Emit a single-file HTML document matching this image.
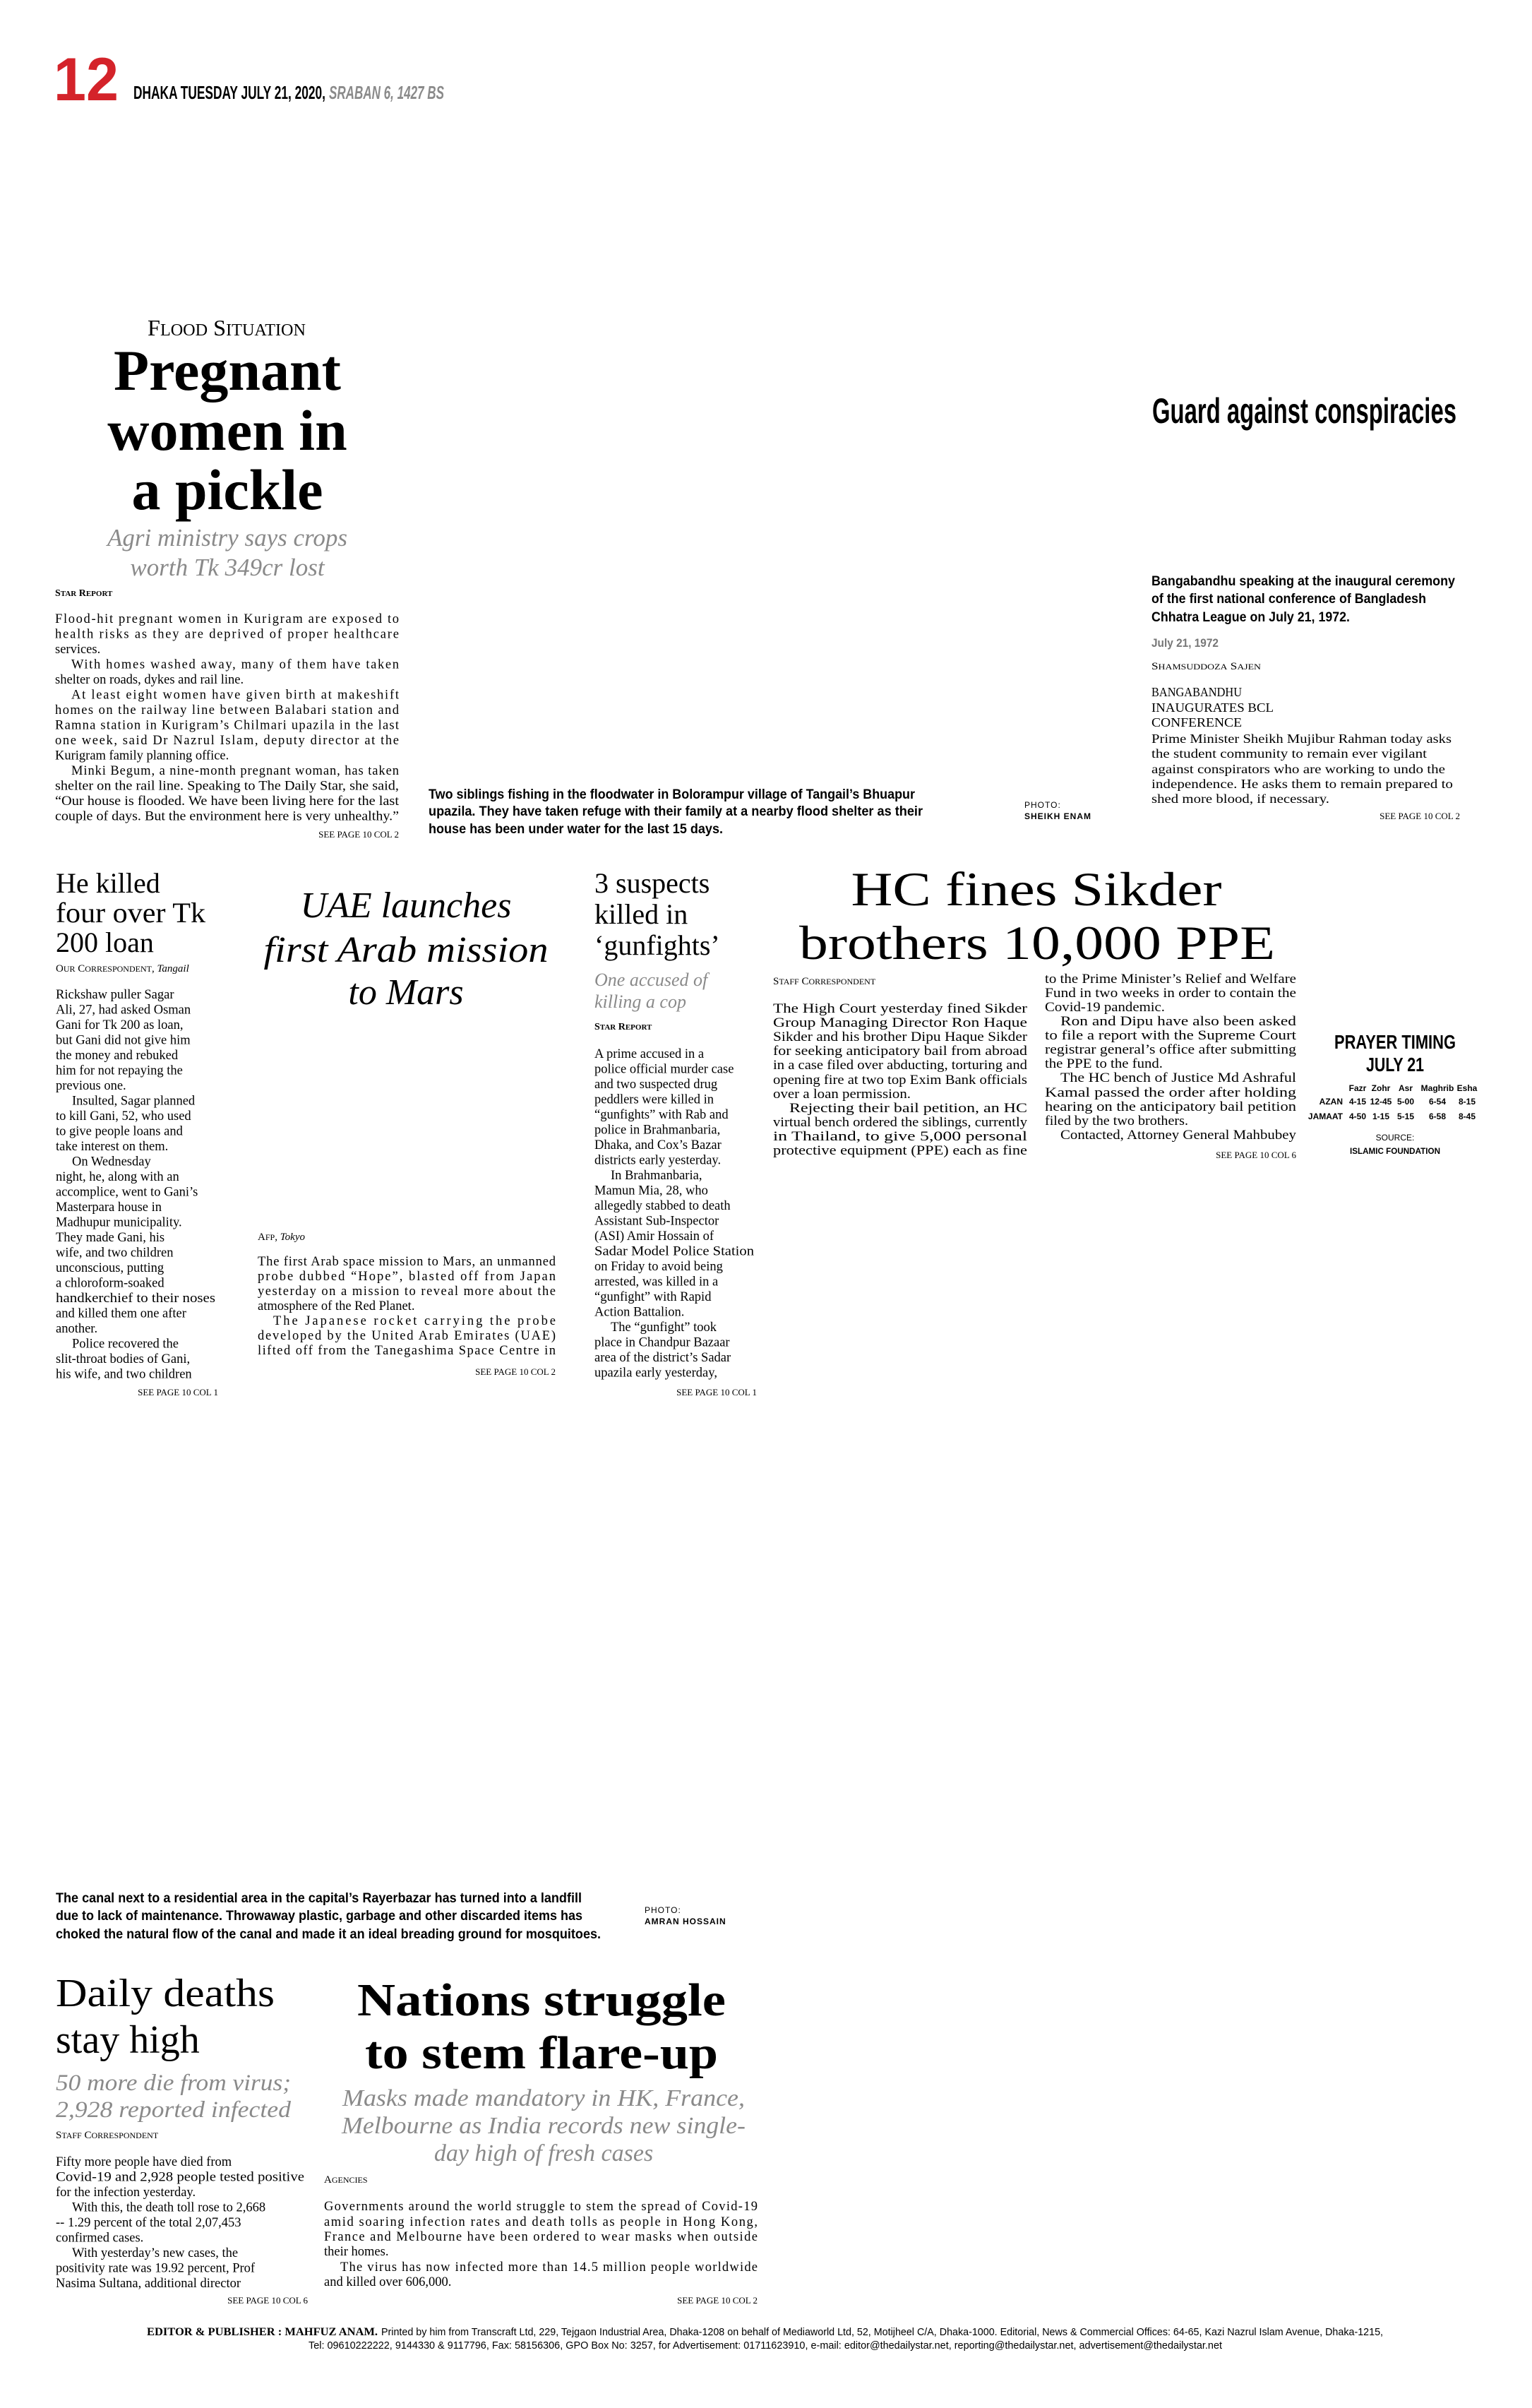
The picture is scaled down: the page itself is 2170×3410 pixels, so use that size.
<!DOCTYPE html>
<html><head><meta charset="utf-8"><style>
html,body{margin:0;padding:0;background:#fff}
svg{display:block}
.s{font-family:"Liberation Serif",serif}
.sb{font-family:"Liberation Serif",serif;font-weight:bold}
.si{font-family:"Liberation Serif",serif;font-style:italic}
.n{font-family:"Liberation Sans",sans-serif;font-weight:bold}
.b{font-family:"Liberation Serif",serif;font-size:18.5px}
.gi{font-family:"Liberation Serif",serif;font-style:italic;fill:#8a8a8a}
.sc{font-family:"Liberation Serif",serif;font-weight:bold;font-size:14px}
.see{font-family:"Liberation Serif",serif;font-size:13px;text-anchor:end}
</style></head><body>
<svg width="2170" height="3410" viewBox="0 0 2170 3410" xmlns="http://www.w3.org/2000/svg">
<rect width="2170" height="3410" fill="#fff"/>
<!-- header -->
<text x="76" y="142" class="n" font-size="86" fill="#d4232a" textLength="92" lengthAdjust="spacingAndGlyphs">12</text>
<text x="189" y="140" class="n" font-size="26" textLength="272" lengthAdjust="spacingAndGlyphs">DHAKA TUESDAY JULY 21, 2020,</text>
<text x="466" y="140" class="n" font-size="26" font-style="italic" fill="#8a8a8a" textLength="163" lengthAdjust="spacingAndGlyphs">SRABAN 6, 1427 BS</text>

<!-- Pregnant women -->
<text x="209" y="475" class="s" font-size="32" textLength="224" lengthAdjust="spacingAndGlyphs">F<tspan font-size="24">LOOD</tspan> S<tspan font-size="24">ITUATION</tspan></text>
<g class="sb" font-size="82" text-anchor="middle">
<text x="322" y="552">Pregnant</text>
<text x="322" y="637">women in</text>
<text x="322" y="721">a pickle</text>
</g>
<g class="gi" font-size="35" text-anchor="middle">
<text x="322" y="773">Agri ministry says crops</text>
<text x="322" y="815">worth Tk 349cr lost</text>
</g>
<text x="78" y="844" class="sc">S<tspan font-size="11">TAR</tspan> R<tspan font-size="11">EPORT</tspan></text>
<g class="b">
<text x="78" y="882" textLength="487" lengthAdjust="spacing">Flood-hit pregnant women in Kurigram are exposed to</text>
<text x="78" y="903.5" textLength="487" lengthAdjust="spacing">health risks as they are deprived of proper healthcare</text>
<text x="78" y="925">services.</text>
<text x="101" y="946.5" textLength="464" lengthAdjust="spacing">With homes washed away, many of them have taken</text>
<text x="78" y="968">shelter on roads, dykes and rail line.</text>
<text x="101" y="989.5" textLength="464" lengthAdjust="spacing">At least eight women have given birth at makeshift</text>
<text x="78" y="1011" textLength="487" lengthAdjust="spacing">homes on the railway line between Balabari station and</text>
<text x="78" y="1032.5" textLength="487" lengthAdjust="spacing">Ramna station in Kurigram’s Chilmari upazila in the last</text>
<text x="78" y="1054" textLength="487" lengthAdjust="spacing">one week, said Dr Nazrul Islam, deputy director at the</text>
<text x="78" y="1075.5">Kurigram family planning office.</text>
<text x="101" y="1097" textLength="464" lengthAdjust="spacing">Minki Begum, a nine-month pregnant woman, has taken</text>
<text x="78" y="1118.5" textLength="487" lengthAdjust="spacingAndGlyphs">shelter on the rail line. Speaking to The Daily Star, she said,</text>
<text x="78" y="1140" textLength="487" lengthAdjust="spacingAndGlyphs">“Our house is flooded. We have been living here for the last</text>
<text x="78" y="1161.5" textLength="487" lengthAdjust="spacingAndGlyphs">couple of days. But the environment here is very unhealthy.”</text>
</g>
<text x="565" y="1186" class="see">SEE PAGE 10 COL 2</text>

<!-- flood caption -->
<g class="n" font-size="19">
<text x="607" y="1131" textLength="689" lengthAdjust="spacingAndGlyphs">Two siblings fishing in the floodwater in Bolorampur village of Tangail’s Bhuapur</text>
<text x="607" y="1155" textLength="700" lengthAdjust="spacingAndGlyphs">upazila. They have taken refuge with their family at a nearby flood shelter as their</text>
<text x="607" y="1180" textLength="417" lengthAdjust="spacingAndGlyphs">house has been under water for the last 15 days.</text>
</g>
<text x="1451" y="1144" font-family="Liberation Sans,sans-serif" font-size="12" letter-spacing="1">PHOTO:</text>
<text x="1451" y="1160" class="n" font-size="12" letter-spacing="1">SHEIKH ENAM</text>

<!-- Guard against conspiracies -->
<text x="1632" y="599" class="n" font-size="50" textLength="431" lengthAdjust="spacingAndGlyphs">Guard against conspiracies</text>
<g class="n" font-size="19">
<text x="1631" y="829" textLength="430" lengthAdjust="spacingAndGlyphs">Bangabandhu speaking at the inaugural ceremony</text>
<text x="1631" y="854" textLength="389" lengthAdjust="spacingAndGlyphs">of the first national conference of Bangladesh</text>
<text x="1631" y="880" textLength="281" lengthAdjust="spacingAndGlyphs">Chhatra League on July 21, 1972.</text>
</g>
<text x="1631" y="916" class="n" font-size="17" fill="#777" textLength="95" lengthAdjust="spacingAndGlyphs">July 21, 1972</text>
<text x="1631" y="948" class="s" font-size="15" textLength="155" lengthAdjust="spacingAndGlyphs">S<tspan font-size="12">HAMSUDDOZA</tspan> S<tspan font-size="12">AJEN</tspan></text>
<g class="s" font-size="18">
<text x="1631" y="986" textLength="128" lengthAdjust="spacingAndGlyphs">BANGABANDHU</text>
<text x="1631" y="1008" textLength="173" lengthAdjust="spacingAndGlyphs">INAUGURATES BCL</text>
<text x="1631" y="1029" textLength="128" lengthAdjust="spacingAndGlyphs">CONFERENCE</text>
<text x="1631" y="1052" textLength="425" lengthAdjust="spacingAndGlyphs">Prime Minister Sheikh Mujibur Rahman today asks</text>
<text x="1631" y="1073" textLength="390" lengthAdjust="spacingAndGlyphs">the student community to remain ever vigilant</text>
<text x="1631" y="1095" textLength="416" lengthAdjust="spacingAndGlyphs">against conspirators who are working to undo the</text>
<text x="1631" y="1116" textLength="427" lengthAdjust="spacingAndGlyphs">independence. He asks them to remain prepared to</text>
<text x="1631" y="1137" textLength="252" lengthAdjust="spacingAndGlyphs">shed more blood, if necessary.</text>
</g>
<text x="2068" y="1160" class="see">SEE PAGE 10 COL 2</text>

<!-- He killed -->
<g class="s" font-size="40">
<text x="79" y="1264">He killed</text>
<text x="79" y="1306" textLength="212" lengthAdjust="spacingAndGlyphs">four over Tk</text>
<text x="79" y="1348">200 loan</text>
</g>
<text x="79" y="1376" class="s" font-size="15">O<tspan font-size="12">UR</tspan> C<tspan font-size="12">ORRESPONDENT</tspan>, <tspan font-style="italic">Tangail</tspan></text>
<g class="b">
<text x="79" y="1414">Rickshaw puller Sagar</text>
<text x="79" y="1435.5">Ali, 27, had asked Osman</text>
<text x="79" y="1457">Gani for Tk 200 as loan,</text>
<text x="79" y="1478.5">but Gani did not give him</text>
<text x="79" y="1500">the money and rebuked</text>
<text x="79" y="1521.5">him for not repaying the</text>
<text x="79" y="1543">previous one.</text>
<text x="102" y="1564.5">Insulted, Sagar planned</text>
<text x="79" y="1586">to kill Gani, 52, who used</text>
<text x="79" y="1607.5">to give people loans and</text>
<text x="79" y="1629">take interest on them.</text>
<text x="102" y="1650.5">On Wednesday</text>
<text x="79" y="1672">night, he, along with an</text>
<text x="79" y="1693.5">accomplice, went to Gani’s</text>
<text x="79" y="1715">Masterpara house in</text>
<text x="79" y="1736.5">Madhupur municipality.</text>
<text x="79" y="1758">They made Gani, his</text>
<text x="79" y="1779.5">wife, and two children</text>
<text x="79" y="1801">unconscious, putting</text>
<text x="79" y="1822.5">a chloroform-soaked</text>
<text x="79" y="1844" textLength="226" lengthAdjust="spacingAndGlyphs">handkerchief to their noses</text>
<text x="79" y="1865.5">and killed them one after</text>
<text x="79" y="1887">another.</text>
<text x="102" y="1908.5">Police recovered the</text>
<text x="79" y="1930">slit-throat bodies of Gani,</text>
<text x="79" y="1951.5">his wife, and two children</text>
</g>
<text x="309" y="1976" class="see">SEE PAGE 10 COL 1</text>

<!-- UAE -->
<g class="si" font-size="52" text-anchor="middle">
<text x="575" y="1299">UAE launches</text>
<text x="575" y="1362" textLength="403" lengthAdjust="spacingAndGlyphs">first Arab mission</text>
<text x="575" y="1422">to Mars</text>
</g>
<text x="365" y="1756" class="s" font-size="15">A<tspan font-size="12">FP</tspan>, <tspan font-style="italic">Tokyo</tspan></text>
<g class="b">
<text x="365" y="1792" textLength="422" lengthAdjust="spacing">The first Arab space mission to Mars, an unmanned</text>
<text x="365" y="1813" textLength="422" lengthAdjust="spacing">probe dubbed “Hope”, blasted off from Japan</text>
<text x="365" y="1834" textLength="422" lengthAdjust="spacing">yesterday on a mission to reveal more about the</text>
<text x="365" y="1855">atmosphere of the Red Planet.</text>
<text x="387" y="1876" textLength="400" lengthAdjust="spacing">The Japanese rocket carrying the probe</text>
<text x="365" y="1897" textLength="422" lengthAdjust="spacing">developed by the United Arab Emirates (UAE)</text>
<text x="365" y="1918" textLength="422" lengthAdjust="spacing">lifted off from the Tanegashima Space Centre in</text>
</g>
<text x="787" y="1947" class="see">SEE PAGE 10 COL 2</text>

<!-- 3 suspects -->
<g class="s" font-size="40">
<text x="842" y="1264">3 suspects</text>
<text x="842" y="1308">killed in</text>
<text x="842" y="1352">‘gunfights’</text>
</g>
<g class="gi" font-size="26">
<text x="842" y="1396">One accused of</text>
<text x="842" y="1427">killing a cop</text>
</g>
<text x="842" y="1458" class="sc">S<tspan font-size="11">TAR</tspan> R<tspan font-size="11">EPORT</tspan></text>
<g class="b">
<text x="842" y="1498">A prime accused in a</text>
<text x="842" y="1519.5">police official murder case</text>
<text x="842" y="1541">and two suspected drug</text>
<text x="842" y="1562.5">peddlers were killed in</text>
<text x="842" y="1584">“gunfights” with Rab and</text>
<text x="842" y="1605.5">police in Brahmanbaria,</text>
<text x="842" y="1627">Dhaka, and Cox’s Bazar</text>
<text x="842" y="1648.5">districts early yesterday.</text>
<text x="865" y="1670">In Brahmanbaria,</text>
<text x="842" y="1691.5">Mamun Mia, 28, who</text>
<text x="842" y="1713">allegedly stabbed to death</text>
<text x="842" y="1734.5">Assistant Sub-Inspector</text>
<text x="842" y="1756">(ASI) Amir Hossain of</text>
<text x="842" y="1777.5" textLength="226" lengthAdjust="spacingAndGlyphs">Sadar Model Police Station</text>
<text x="842" y="1799">on Friday to avoid being</text>
<text x="842" y="1820.5">arrested, was killed in a</text>
<text x="842" y="1842">“gunfight” with Rapid</text>
<text x="842" y="1863.5">Action Battalion.</text>
<text x="865" y="1885">The “gunfight” took</text>
<text x="842" y="1906.5">place in Chandpur Bazaar</text>
<text x="842" y="1928">area of the district’s Sadar</text>
<text x="842" y="1949.5">upazila early yesterday,</text>
</g>
<text x="1072" y="1976" class="see">SEE PAGE 10 COL 1</text>

<!-- HC fines -->
<g class="s" font-size="68" text-anchor="middle">
<text x="1468" y="1282" textLength="525" lengthAdjust="spacingAndGlyphs">HC fines Sikder</text>
<text x="1469" y="1358" textLength="674" lengthAdjust="spacingAndGlyphs">brothers 10,000 PPE</text>
</g>
<text x="1095" y="1394" class="s" font-size="15">S<tspan font-size="12">TAFF</tspan> C<tspan font-size="12">ORRESPONDENT</tspan></text>
<g class="b" font-size="18.5">
<text x="1095" y="1434" textLength="360" lengthAdjust="spacingAndGlyphs">The High Court yesterday fined Sikder</text>
<text x="1095" y="1454" textLength="360" lengthAdjust="spacingAndGlyphs">Group Managing Director Ron Haque</text>
<text x="1095" y="1474" textLength="360" lengthAdjust="spacingAndGlyphs">Sikder and his brother Dipu Haque Sikder</text>
<text x="1095" y="1494" textLength="360" lengthAdjust="spacingAndGlyphs">for seeking anticipatory bail from abroad</text>
<text x="1095" y="1514" textLength="360" lengthAdjust="spacingAndGlyphs">in a case filed over abducting, torturing and</text>
<text x="1095" y="1535" textLength="360" lengthAdjust="spacingAndGlyphs">opening fire at two top Exim Bank officials</text>
<text x="1095" y="1555" textLength="195" lengthAdjust="spacingAndGlyphs">over a loan permission.</text>
<text x="1118" y="1575" textLength="337" lengthAdjust="spacingAndGlyphs">Rejecting their bail petition, an HC</text>
<text x="1095" y="1595" textLength="360" lengthAdjust="spacingAndGlyphs">virtual bench ordered the siblings, currently</text>
<text x="1095" y="1615" textLength="360" lengthAdjust="spacingAndGlyphs">in Thailand, to give 5,000 personal</text>
<text x="1095" y="1635" textLength="360" lengthAdjust="spacingAndGlyphs">protective equipment (PPE) each as fine</text>
<text x="1480" y="1392" textLength="356" lengthAdjust="spacingAndGlyphs">to the Prime Minister’s Relief and Welfare</text>
<text x="1480" y="1412" textLength="356" lengthAdjust="spacingAndGlyphs">Fund in two weeks in order to contain the</text>
<text x="1480" y="1432" textLength="170" lengthAdjust="spacingAndGlyphs">Covid-19 pandemic.</text>
<text x="1502" y="1452" textLength="334" lengthAdjust="spacingAndGlyphs">Ron and Dipu have also been asked</text>
<text x="1480" y="1472" textLength="356" lengthAdjust="spacingAndGlyphs">to file a report with the Supreme Court</text>
<text x="1480" y="1492" textLength="356" lengthAdjust="spacingAndGlyphs">registrar general’s office after submitting</text>
<text x="1480" y="1512" textLength="167" lengthAdjust="spacingAndGlyphs">the PPE to the fund.</text>
<text x="1502" y="1532" textLength="334" lengthAdjust="spacingAndGlyphs">The HC bench of Justice Md Ashraful</text>
<text x="1480" y="1553" textLength="356" lengthAdjust="spacingAndGlyphs">Kamal passed the order after holding</text>
<text x="1480" y="1573" textLength="356" lengthAdjust="spacingAndGlyphs">hearing on the anticipatory bail petition</text>
<text x="1480" y="1593" textLength="203" lengthAdjust="spacingAndGlyphs">filed by the two brothers.</text>
<text x="1502" y="1613" textLength="334" lengthAdjust="spacingAndGlyphs">Contacted, Attorney General Mahbubey</text>
</g>
<text x="1836" y="1640" class="see">SEE PAGE 10 COL 6</text>

<!-- Prayer timing -->
<g class="n" text-anchor="middle">
<text x="1976" y="1485" font-size="28" textLength="172" lengthAdjust="spacingAndGlyphs">PRAYER TIMING</text>
<text x="1976" y="1517" font-size="28" textLength="82" lengthAdjust="spacingAndGlyphs">JULY 21</text>
</g>
<g class="n" font-size="12" text-anchor="middle">
<text x="1923" y="1545">Fazr</text><text x="1956" y="1545">Zohr</text><text x="1991" y="1545">Asr</text><text x="2036" y="1545">Maghrib</text><text x="2078" y="1545">Esha</text>
<text x="1923" y="1564">4-15</text><text x="1956" y="1564">12-45</text><text x="1991" y="1564">5-00</text><text x="2036" y="1564">6-54</text><text x="2078" y="1564">8-15</text>
<text x="1923" y="1585">4-50</text><text x="1956" y="1585">1-15</text><text x="1991" y="1585">5-15</text><text x="2036" y="1585">6-58</text><text x="2078" y="1585">8-45</text>
<text x="1902" y="1564" text-anchor="end">AZAN</text>
<text x="1902" y="1585" text-anchor="end">JAMAAT</text>
</g>
<text x="1976" y="1615" font-family="Liberation Sans,sans-serif" font-size="12" text-anchor="middle">SOURCE:</text>
<text x="1976" y="1634" class="n" font-size="12" text-anchor="middle" textLength="128" lengthAdjust="spacingAndGlyphs">ISLAMIC FOUNDATION</text>

<!-- canal caption -->
<g class="n" font-size="19">
<text x="79" y="2694" textLength="745" lengthAdjust="spacingAndGlyphs">The canal next to a residential area in the capital’s Rayerbazar has turned into a landfill</text>
<text x="79" y="2719" textLength="746" lengthAdjust="spacingAndGlyphs">due to lack of maintenance. Throwaway plastic, garbage and other discarded items has</text>
<text x="79" y="2745" textLength="772" lengthAdjust="spacingAndGlyphs">choked the natural flow of the canal and made it an ideal breading ground for mosquitoes.</text>
</g>
<text x="913" y="2709" font-family="Liberation Sans,sans-serif" font-size="12" letter-spacing="1">PHOTO:</text>
<text x="913" y="2725" class="n" font-size="12" letter-spacing="1">AMRAN HOSSAIN</text>

<!-- Daily deaths -->
<g class="s" font-size="56">
<text x="79" y="2841" textLength="310" lengthAdjust="spacingAndGlyphs">Daily deaths</text>
<text x="79" y="2907">stay high</text>
</g>
<g class="gi" font-size="33">
<text x="79" y="2960" textLength="333" lengthAdjust="spacingAndGlyphs">50 more die from virus;</text>
<text x="79" y="2998" textLength="333" lengthAdjust="spacingAndGlyphs">2,928 reported infected</text>
</g>
<text x="79" y="3028" class="s" font-size="15">S<tspan font-size="12">TAFF</tspan> C<tspan font-size="12">ORRESPONDENT</tspan></text>
<g class="b">
<text x="79" y="3067">Fifty more people have died from</text>
<text x="79" y="3088.5" textLength="352" lengthAdjust="spacingAndGlyphs">Covid-19 and 2,928 people tested positive</text>
<text x="79" y="3110">for the infection yesterday.</text>
<text x="102" y="3131.5">With this, the death toll rose to 2,668</text>
<text x="79" y="3153">-- 1.29 percent of the total 2,07,453</text>
<text x="79" y="3174.5">confirmed cases.</text>
<text x="102" y="3196">With yesterday’s new cases, the</text>
<text x="79" y="3217.5">positivity rate was 19.92 percent, Prof</text>
<text x="79" y="3239">Nasima Sultana, additional director</text>
</g>
<text x="436" y="3262" class="see">SEE PAGE 10 COL 6</text>

<!-- Nations struggle -->
<g class="sb" font-size="66" text-anchor="middle">
<text x="767" y="2854" textLength="522" lengthAdjust="spacingAndGlyphs">Nations struggle</text>
<text x="767" y="2929" textLength="500" lengthAdjust="spacingAndGlyphs">to stem flare-up</text>
</g>
<g class="gi" font-size="34" text-anchor="middle">
<text x="770" y="2982" textLength="570" lengthAdjust="spacingAndGlyphs">Masks made mandatory in HK, France,</text>
<text x="770" y="3021" textLength="572" lengthAdjust="spacingAndGlyphs">Melbourne as India records new single-</text>
<text x="770" y="3060">day high of fresh cases</text>
</g>
<text x="459" y="3091" class="s" font-size="15">A<tspan font-size="12">GENCIES</tspan></text>
<g class="b">
<text x="459" y="3130" textLength="614" lengthAdjust="spacing">Governments around the world struggle to stem the spread of Covid-19</text>
<text x="459" y="3152" textLength="614" lengthAdjust="spacing">amid soaring infection rates and death tolls as people in Hong Kong,</text>
<text x="459" y="3173" textLength="614" lengthAdjust="spacing">France and Melbourne have been ordered to wear masks when outside</text>
<text x="459" y="3194">their homes.</text>
<text x="482" y="3216" textLength="591" lengthAdjust="spacing">The virus has now infected more than 14.5 million people worldwide</text>
<text x="459" y="3237">and killed over 606,000.</text>
</g>
<text x="1073" y="3262" class="see">SEE PAGE 10 COL 2</text>

<!-- footer -->
<text x="208" y="3307" class="sb" font-size="16" textLength="327" lengthAdjust="spacingAndGlyphs">EDITOR &amp; PUBLISHER : MAHFUZ ANAM.</text>
<text x="540" y="3307" font-family="Liberation Sans,sans-serif" font-size="15" textLength="1419" lengthAdjust="spacingAndGlyphs">Printed by him from Transcraft Ltd, 229, Tejgaon Industrial Area, Dhaka-1208 on behalf of Mediaworld Ltd, 52, Motijheel C/A, Dhaka-1000. Editorial, News &amp; Commercial Offices: 64-65, Kazi Nazrul Islam Avenue, Dhaka-1215,</text>
<text x="437" y="3326" font-family="Liberation Sans,sans-serif" font-size="15" textLength="1294" lengthAdjust="spacingAndGlyphs">Tel: 09610222222, 9144330 &amp; 9117796, Fax: 58156306, GPO Box No: 3257, for Advertisement: 01711623910, e-mail: editor@thedailystar.net, reporting@thedailystar.net, advertisement@thedailystar.net</text>
</svg>
</body></html>
